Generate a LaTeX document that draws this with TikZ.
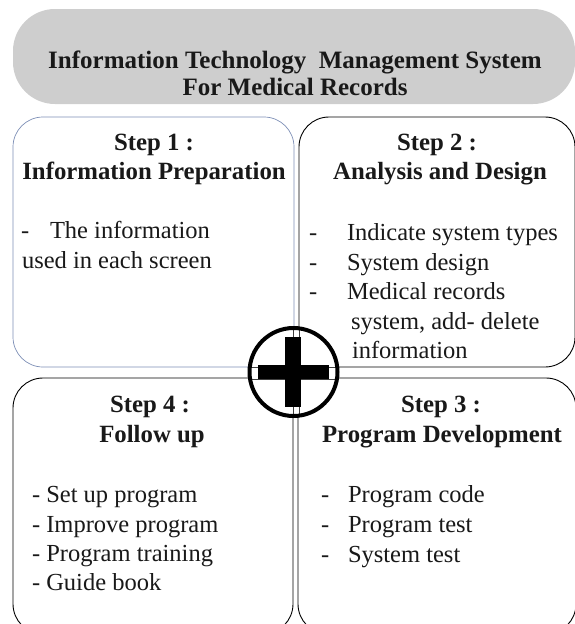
\documentclass[tikz,border=0pt]{standalone}
\usepackage{fontspec}
\setmainfont{Liberation Serif}
\definecolor{boxblue}{RGB}{125,143,182}
\definecolor{pillgray}{RGB}{206,206,206}
\begin{document}
\begin{tikzpicture}[x=1pt,y=-1pt,
  every node/.style={inner sep=0pt,outer sep=0pt,text=black!90},
  stepbox/.style={draw=black,line width=0.9pt,rounded corners=30pt,fill=white},
  bluebox/.style={draw=boxblue,line width=0.7pt,rounded corners=30pt,fill=white},
  pill/.style={fill=pillgray,draw=none,rounded corners=42pt},
  ttl/.style={font=\fontsize{24.8}{29}\selectfont\bfseries,anchor=base},
  headtxt/.style={font=\fontsize{25}{29}\selectfont\bfseries,anchor=base},
  txt/.style={font=\fontsize{24.5}{29.5}\selectfont,anchor=base west},
  dashtxt/.style={font=\fontsize{24.5}{29.5}\selectfont,anchor=base west},
  crossline/.style={draw=black!75,line width=0.8pt}]
\useasboundingbox (0,0) rectangle (575,624);
\clip (0,0) rectangle (575,624);
% title pill
\node[pill,minimum width=562pt,minimum height=95pt] (title) at (294,56.5) {};
\node[headtxt] (t1) at (295,68) {Information Technology\ \ Management System};
\node[headtxt] (t2) at (295,95) {For Medical Records};
% boxes
\node[bluebox,minimum width=281pt,minimum height=250pt] (box1) at (153.5,242) {};
\node[stepbox,minimum width=276pt,minimum height=250pt] (box2) at (437,242) {};
\node[stepbox,minimum width=280pt,minimum height=256pt] (box4) at (153,506) {};
\node[stepbox,minimum width=278pt,minimum height=256pt] (box3) at (437,506) {};
% step 1
\node[ttl] (s1a) at (154,150) {Step 1 :};
\node[ttl] (s1b) at (154,179) {Information Preparation};
\node[dashtxt] (s1d) at (21,238) {-};
\node[txt] (s1c) at (50,238) {The information};
\node[txt] (s1e) at (22,268) {used in each screen};
% step 2
\node[ttl] (s2a) at (437,150) {Step 2 :};
\node[ttl] (s2b) at (440,179) {Analysis and Design};
\node[dashtxt] (s2d1) at (309,240) {-};
\node[txt] (s2i1) at (347,240) {Indicate system types};
\node[dashtxt] (s2d2) at (309,270) {-};
\node[txt] (s2i2) at (347,270) {System design};
\node[dashtxt] (s2d3) at (309,299) {-};
\node[txt] (s2i3) at (347,299) {Medical records};
\node[txt] (s2i4) at (351,329) {system, add- delete};
\node[txt] (s2i5) at (352,358) {information};
% step 4
\node[ttl] (s4a) at (150,412) {Step 4 :};
\node[ttl] (s4b) at (152,442) {Follow up};
\node[txt] (s4i1) at (32,502) {- Set up program};
\node[txt] (s4i2) at (32,532) {- Improve program};
\node[txt] (s4i3) at (32,561) {- Program training};
\node[txt] (s4i4) at (32,590) {- Guide book};
% step 3
\node[ttl] (s3a) at (441,412) {Step 3 :};
\node[ttl] (s3b) at (442,442) {Program Development};
\node[dashtxt] (s3d1) at (321,502) {-};
\node[txt] (s3i1) at (348,502) {Program code};
\node[dashtxt] (s3d2) at (321,532) {-};
\node[txt] (s3i2) at (348,532) {Program test};
\node[dashtxt] (s3d3) at (321,562) {-};
\node[txt] (s3i3) at (348,562) {System test};
% plus sign
\node[fill=white,circle,minimum size=88pt] (plusbg) at (293.5,372) {};
\begin{scope}
  \clip (plusbg.center) circle (44pt);
  \draw[crossline] (293,320) -- (293,425);
  \draw[crossline] (299,320) -- (299,425);
  \draw[crossline] (240,367) -- (345,367);
  \draw[crossline] (240,379) -- (345,379);
\end{scope}
\node[draw=black,line width=4pt,circle,minimum size=88pt] (plus) at (293.5,372) {};
\fill[black] (258,365) rectangle (329,379);
\fill[black] (285,337) rectangle (301,407);
\end{tikzpicture}
\end{document}
